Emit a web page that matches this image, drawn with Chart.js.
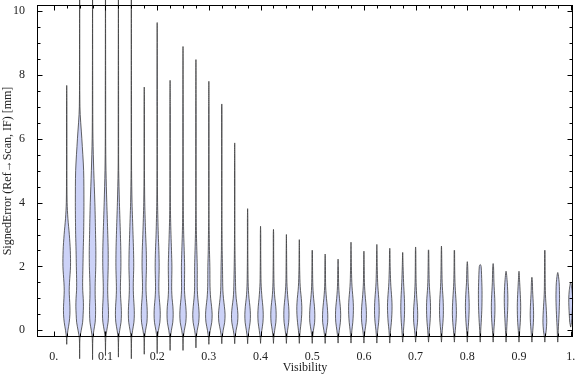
<!DOCTYPE html>
<html>
<head>
<meta charset="utf-8">
<script src="https://cdn.jsdelivr.net/npm/chart.js@4.4.0/dist/chart.umd.min.js"></script>
<style>
html, body { margin: 0; padding: 0; background: #fff; }
#wrap { width: 576px; height: 377px; }
</style>
</head>
<body>
<div id="wrap"><canvas id="violinChart"></canvas></div>
<script>
// bin centres on the visibility axis
var visibility = [0.025, 0.05, 0.075, 0.1, 0.125, 0.15, 0.175, 0.2, 0.225, 0.25,
    0.275, 0.3, 0.325, 0.35, 0.375, 0.4, 0.425, 0.45, 0.475, 0.5,
    0.525, 0.55, 0.575, 0.6, 0.625, 0.65, 0.675, 0.7, 0.725, 0.75,
    0.775, 0.8, 0.825, 0.85, 0.875, 0.9, 0.925, 0.95, 0.975, 1.0];

// largest / smallest signed error in each bin [mm]
var errorMax = [7.67, 11, 11, 11, 11, 11, 7.62, 9.64, 7.83, 8.89,
    8.48, 7.80, 7.09, 5.87, 3.81, 3.26, 3.16, 3.00, 2.84, 2.51,
    2.39, 2.23, 2.76, 2.48, 2.69, 2.57, 2.44, 2.61, 2.52, 2.64,
    2.51, 2.15, 2.06, 2.09, 1.85, 1.85, 1.66, 2.51, 1.81, 1.50];
var errorMin = [-0.44, -0.89, -0.92, -0.79, -0.84, -0.89, -0.75, -0.73, -0.63, -0.63,
    -0.55, -0.44, -0.42, -0.42, -0.42, -0.41, -0.41, -0.41, -0.41, -0.41,
    -0.41, -0.40, -0.40, -0.40, -0.40, -0.40, -0.37, -0.37, -0.37, -0.37,
    -0.37, -0.37, -0.37, -0.37, -0.37, -0.37, -0.37, -0.37, -0.37, 0.10];

// error levels where the density was read, and the density per bin
var levels = [-0.25, 0, 0.25, 0.5, 0.75, 1, 1.25, 1.5, 2, 2.5, 3, 3.5, 4, 5, 6, 7];
var density = [
    [0.2, 1.2, 2.5, 3.2, 3.2, 2.8, 2.5, 2.8, 3.8, 3.6, 2.6, 1.2, 0.4, 0.2, 0.2, 0.2],
    [0.3, 1.6, 3.0, 3.5, 3.8, 3.6, 3.1, 3.0, 3.3, 3.6, 4.0, 4.2, 4.3, 4.0, 2.2, 0.3],
    [0.3, 1.3, 2.6, 3.0, 3.0, 2.7, 2.6, 2.7, 3.2, 3.3, 3.0, 2.7, 2.3, 1.2, 0.4, 0.2],
    [0.3, 1.3, 2.6, 3.0, 2.8, 2.4, 2.2, 2.3, 2.7, 2.7, 2.3, 1.8, 1.3, 0.5, 0.2, 0.2],
    [0.3, 1.3, 2.6, 3.0, 2.8, 2.3, 2.0, 2.1, 2.5, 2.4, 2.0, 1.5, 1.0, 0.3, 0.2, 0.2],
    [0.3, 1.3, 2.6, 3.0, 2.8, 2.3, 2.0, 2.0, 2.4, 2.2, 1.7, 1.2, 0.7, 0.25, 0.2, 0.2],
    [0.3, 1.3, 2.7, 3.0, 2.8, 2.2, 1.8, 1.8, 2.2, 2.0, 1.4, 0.9, 0.5, 0.2, 0.2, 0.2],
    [0.3, 1.3, 2.7, 3.1, 2.8, 2.1, 1.7, 1.7, 2.0, 1.7, 1.1, 0.7, 0.4, 0.2, 0.2, 0.2],
    [0.3, 1.3, 2.7, 3.1, 2.8, 2.0, 1.6, 1.6, 1.8, 1.4, 0.9, 0.5, 0.3, 0.2, 0.2, 0.2],
    [0.3, 1.3, 2.8, 3.2, 2.8, 2.0, 1.5, 1.5, 1.6, 1.2, 0.7, 0.4, 0.3, 0.2, 0.2, 0.2],
    [0.3, 1.3, 2.8, 3.2, 2.7, 1.9, 1.4, 1.3, 1.3, 0.9, 0.5, 0.3, 0.2, 0.2, 0.2, 0.2],
    [0.3, 1.4, 2.9, 3.3, 2.7, 1.8, 1.3, 1.1, 1.0, 0.6, 0.4, 0.2, 0.2, 0.2, 0.2, 0.2],
    [0.3, 1.4, 2.9, 3.3, 2.6, 1.7, 1.1, 0.9, 0.7, 0.4, 0.3, 0.2, 0.2, 0.2, 0.2, 0.2],
    [0.3, 1.4, 2.9, 3.2, 2.5, 1.5, 1.0, 0.8, 0.5, 0.3, 0.2, 0.2, 0.2, 0.2, 0.2, 0.2],
    [0.3, 1.3, 2.5, 2.8, 2.3, 1.4, 0.8, 0.5, 0.3, 0.2, 0.2, 0.2, 0.2, 0.2, 0.2, 0.2],
    [0.3, 1.3, 2.4, 2.7, 2.3, 1.5, 0.9, 0.5, 0.3, 0.2, 0.2, 0.2, 0.2, 0.2, 0.2, 0.2],
    [0.3, 1.2, 2.4, 2.7, 2.3, 1.4, 0.8, 0.5, 0.3, 0.2, 0.2, 0.2, 0.2, 0.2, 0.2, 0.2],
    [0.3, 1.2, 2.3, 2.6, 2.3, 1.5, 0.9, 0.5, 0.3, 0.2, 0.2, 0.2, 0.2, 0.2, 0.2, 0.2],
    [0.3, 0.9, 1.8, 2.4, 2.5, 2.0, 1.2, 0.7, 0.3, 0.2, 0.2, 0.2, 0.2, 0.2, 0.2, 0.2],
    [0.3, 1.2, 2.4, 2.6, 2.2, 1.4, 0.8, 0.5, 0.3, 0.2, 0.2, 0.2, 0.2, 0.2, 0.2, 0.2],
    [0.3, 1.3, 2.5, 2.6, 2.1, 1.3, 0.7, 0.4, 0.3, 0.2, 0.2, 0.2, 0.2, 0.2, 0.2, 0.2],
    [0.3, 1.2, 2.3, 2.6, 2.2, 1.4, 0.8, 0.5, 0.3, 0.2, 0.2, 0.2, 0.2, 0.2, 0.2, 0.2],
    [0.3, 0.9, 1.8, 2.3, 2.4, 2.0, 1.3, 0.8, 0.4, 0.2, 0.2, 0.2, 0.2, 0.2, 0.2, 0.2],
    [0.3, 1.1, 2.2, 2.5, 2.2, 1.5, 0.9, 0.5, 0.3, 0.2, 0.2, 0.2, 0.2, 0.2, 0.2, 0.2],
    [0.3, 0.9, 1.8, 2.3, 2.3, 1.9, 1.3, 0.8, 0.4, 0.2, 0.2, 0.2, 0.2, 0.2, 0.2, 0.2],
    [0.3, 0.8, 1.6, 2.1, 2.3, 2.0, 1.4, 0.9, 0.4, 0.2, 0.2, 0.2, 0.2, 0.2, 0.2, 0.2],
    [0.3, 0.8, 1.4, 1.8, 1.9, 1.7, 1.3, 0.9, 0.4, 0.2, 0.2, 0.2, 0.2, 0.2, 0.2, 0.2],
    [0.3, 1.0, 1.9, 2.1, 1.8, 1.2, 0.8, 0.5, 0.3, 0.2, 0.2, 0.2, 0.2, 0.2, 0.2, 0.2],
    [0.3, 0.8, 1.5, 1.9, 2.0, 1.7, 1.1, 0.7, 0.4, 0.2, 0.2, 0.2, 0.2, 0.2, 0.2, 0.2],
    [0.3, 0.8, 1.5, 1.9, 1.9, 1.6, 1.1, 0.7, 0.4, 0.2, 0.2, 0.2, 0.2, 0.2, 0.2, 0.2],
    [0.3, 0.9, 1.6, 2.0, 1.9, 1.5, 1.0, 0.6, 0.3, 0.2, 0.2, 0.2, 0.2, 0.2, 0.2, 0.2],
    [0.3, 0.7, 1.3, 1.7, 1.9, 1.7, 1.3, 0.8, 0.4, 0.2, 0.2, 0.2, 0.2, 0.2, 0.2, 0.2],
    [0.3, 0.5, 1.0, 1.4, 1.7, 1.8, 1.8, 1.6, 0.9, 0.3, 0.2, 0.2, 0.2, 0.2, 0.2, 0.2],
    [0.3, 0.7, 1.3, 1.7, 1.8, 1.6, 1.2, 0.8, 0.4, 0.2, 0.2, 0.2, 0.2, 0.2, 0.2, 0.2],
    [0.3, 0.6, 1.0, 1.4, 1.7, 1.8, 1.6, 1.2, 0.5, 0.2, 0.2, 0.2, 0.2, 0.2, 0.2, 0.2],
    [0.3, 0.7, 1.3, 1.6, 1.7, 1.5, 1.1, 0.7, 0.4, 0.2, 0.2, 0.2, 0.2, 0.2, 0.2, 0.2],
    [0.3, 0.9, 1.5, 1.7, 1.5, 1.1, 0.7, 0.5, 0.3, 0.2, 0.2, 0.2, 0.2, 0.2, 0.2, 0.2],
    [0.3, 1.4, 1.9, 1.7, 1.3, 0.8, 0.5, 0.4, 0.3, 0.2, 0.2, 0.2, 0.2, 0.2, 0.2, 0.2],
    [0.3, 0.5, 0.9, 1.3, 1.6, 1.8, 1.7, 1.4, 0.7, 0.2, 0.2, 0.2, 0.2, 0.2, 0.2, 0.2],
    [0.0, 0.0, 0.9, 1.4, 1.8, 1.9, 1.4, 0.6, 0.2, 0.2, 0.2, 0.2, 0.2, 0.2, 0.2, 0.2]
];

// density unit -> half width on the visibility axis
var widthScale = 0.00193;

function violinOutline(i) {
    var x = visibility[i];
    var lo = errorMin[i];
    var hi = errorMax[i];
    var right = [{x: x, y: lo}];
    var left = [];
    for (var k = 0; k < levels.length; k++) {
        if (levels[k] <= lo || levels[k] >= hi) continue;
        var w = density[i][k] * widthScale;
        right.push({x: x + w, y: levels[k]});
        left.unshift({x: x - w, y: levels[k]});
    }
    right.push({x: x, y: hi});
    return right.concat(left, [{x: x, y: lo}]);
}

var datasets = [];
for (var i = 0; i < visibility.length; i++) {
    datasets.push({
        data: violinOutline(i),
        showLine: true,
        fill: 'shape',
        backgroundColor: 'rgb(204, 210, 247)',
        borderColor: 'rgba(60, 60, 60, 0.8)',
        borderWidth: 1,
        pointRadius: 0,
        tension: 0.3,
        clip: false
    });
}

// frame with inward ticks on all four sides
var frameTicks = {
    id: 'frameTicks',
    afterDraw: function(chart) {
        var ctx = chart.ctx;
        var a = chart.chartArea;
        var xs = chart.scales.x;
        var ys = chart.scales.y;
        var l = Math.round(a.left) + 0.5, r = Math.round(a.right) - 0.5;
        var t = Math.round(a.top) + 0.5, b = Math.round(a.bottom) - 0.5;
        ctx.save();
        ctx.strokeStyle = '#000';
        ctx.lineWidth = 1;
        ctx.strokeRect(l, t, r - l, b - t);
        ctx.beginPath();
        for (var k = 0; k <= 40; k++) {
            var px = Math.round(xs.getPixelForValue(k * 0.025)) + 0.5;
            var len = (k % 4 === 0) ? 5 : 3;
            ctx.moveTo(px, b);
            ctx.lineTo(px, b - len);
            ctx.moveTo(px, t);
            ctx.lineTo(px, t + len);
        }
        for (var m = 0; m <= 20; m++) {
            var py = Math.round(ys.getPixelForValue(m * 0.5)) + 0.5;
            var ylen = (m % 4 === 0) ? 5 : 3;
            ctx.moveTo(l, py);
            ctx.lineTo(l + ylen, py);
            ctx.moveTo(r, py);
            ctx.lineTo(r - ylen, py);
        }
        ctx.stroke();
        ctx.restore();
    }
};

var serif = '"Liberation Serif", "Times New Roman", serif';

var ctx = document.getElementById('violinChart');
var violinChart = new Chart(ctx, {
    type: 'scatter',
    data: { datasets: datasets },
    options: {
        responsive: true,
        maintainAspectRatio: false,
        animation: false,
        layout: { padding: { top: 5, right: 3, left: 0, bottom: 0 } },
        elements: { line: { capBezierPoints: false } },
        plugins: {
            legend: { display: false },
            tooltip: { enabled: false }
        },
        scales: {
            x: {
                type: 'linear',
                min: -0.0325,
                max: 1.0045,
                afterFit: function(scale) {
                    scale.height = 40;
                    scale.paddingLeft = 0;
                    scale.paddingRight = 0;
                },
                grid: { display: false },
                border: { display: false },
                ticks: {
                    stepSize: 0.1,
                    includeBounds: false,
                    autoSkip: false,
                    maxRotation: 0,
                    padding: 5,
                    color: '#222',
                    font: { family: serif, size: 12 },
                    callback: function(v) {
                        var r = Math.round(v * 10) / 10;
                        if (r === 0) return '0.';
                        if (r === 1) return '1.';
                        return r.toFixed(1);
                    }
                },
                title: {
                    display: true,
                    text: 'Visibility',
                    color: '#222',
                    padding: { top: 0, bottom: 2 },
                    font: { family: serif, size: 12 }
                }
            },
            y: {
                type: 'linear',
                min: -0.21,
                max: 10.19,
                afterFit: function(scale) {
                    scale.width = 37;
                    scale.paddingTop = 0;
                    scale.paddingBottom = 0;
                },
                grid: { display: false },
                border: { display: false },
                ticks: {
                    stepSize: 2,
                    includeBounds: false,
                    padding: 4,
                    color: '#222',
                    font: { family: serif, size: 12 }
                },
                title: {
                    display: true,
                    text: 'SignedError (Ref\u2192Scan, IF) [mm]',
                    color: '#222',
                    padding: { top: 1, bottom: 0 },
                    font: { family: serif, size: 12 }
                }
            }
        }
    },
    plugins: [frameTicks]
});
</script>
</body>
</html>
